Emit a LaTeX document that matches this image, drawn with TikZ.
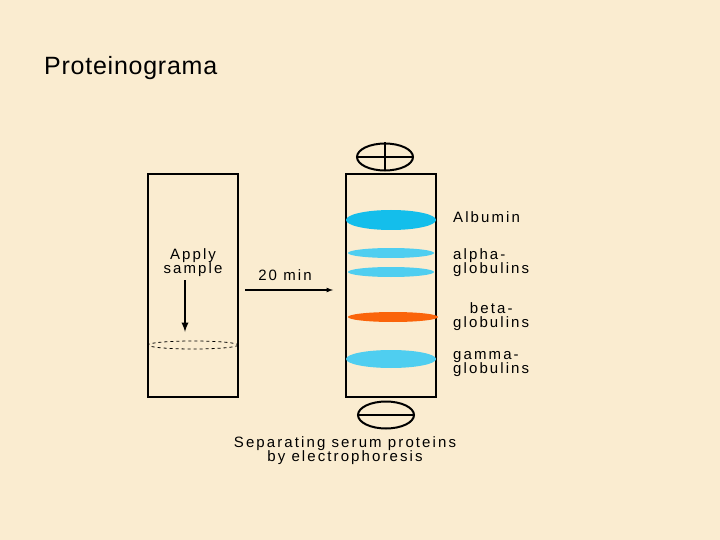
\documentclass[tikz,border=0pt]{standalone}
\usepackage{fontspec}
\setmainfont{Liberation Sans}
\newfontfamily\widefont[LetterSpace=14]{Liberation Sans}
\newfontfamily\titlefont[LetterSpace=3]{Liberation Sans}
\usetikzlibrary{shapes.geometric}
\definecolor{paper}{RGB}{250,236,208}
\definecolor{band}{RGB}{20,190,235}
\definecolor{bandorange}{RGB}{250,100,10}
\tikzset{
  tube/.style={draw, line width=1.3pt},
  lbl/.style={font=\widefont\fontsize{15}{14}\selectfont, inner sep=0pt, align=left},
  pole/.style={draw, line width=2pt, ellipse, minimum width=56pt, minimum height=27pt},
}
\begin{document}
\begin{tikzpicture}[x=1pt,y=-1pt]
    \fill[paper] (0,0) rectangle (720,540);
    \useasboundingbox (0,0) rectangle (720,540);
    \node[anchor=west, inner sep=0pt, font=\titlefont\fontsize{25}{28}\selectfont] (title) at (44,68) {Proteinograma};

    % tubes
    \draw[tube] (148,174) rectangle (238,397);
    \draw[tube] (346,174) rectangle (436,397);

    % sample
    \node[lbl, align=center] (apply) at (193,263) {Apply\\sample};
    \coordinate (drop) at (185,332);
    \draw[line width=2.2pt, -latex] (185,280) -- (drop);
    \draw[dashed, line width=0.8pt] (193,345) ellipse (45 and 4);
    \node[lbl] (time) at (285,275) {20 min};
    \coordinate (from) at (245,290);
    \coordinate (to) at (333,290);
    \draw[line width=1.2pt, -latex] (from) -- (to);

    % bands
    \fill[band] (391,220) ellipse (45 and 10);
    \fill[band!75] (391,253) ellipse (43 and 5);
    \fill[band!75] (391,272) ellipse (43 and 5);
    \fill[bandorange] (393,317) ellipse (45 and 5);
    \fill[band!75] (391,359) ellipse (45 and 9);

    \node[lbl, anchor=west] (alb) at (453,217) {Albumin};
    \node[lbl, anchor=west] (alpha) at (453,263) {alpha-\\globulins};
    \node[lbl, anchor=west, align=center] (beta) at (453,317) {beta-\\globulins};
    \node[lbl, anchor=west] (gamma) at (453,364) {gamma-\\globulins};

    % poles
    \node[pole] (plus) at (385,157) {};
    \draw[line width=2pt] (plus.north) -- (plus.south) (plus.west) -- (plus.east);
    \node[pole] (minus) at (386,415) {};
    \draw[line width=2pt] (minus.west) -- (minus.east);

    \node[lbl, align=center] (caption) at (345,451) {Separating serum proteins\\by electrophoresis};
\end{tikzpicture}
\end{document}
